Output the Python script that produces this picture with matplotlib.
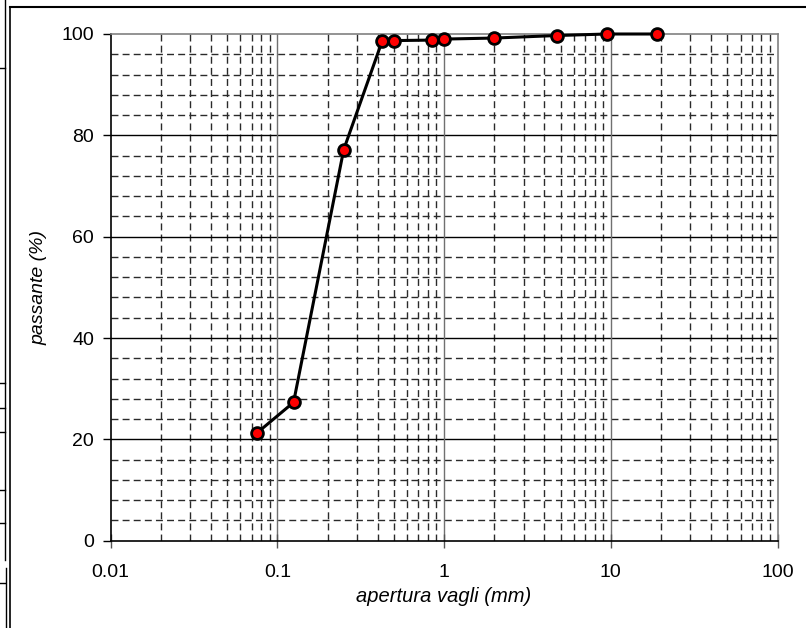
import matplotlib
matplotlib.use("Agg")
import matplotlib.pyplot as plt
from matplotlib.ticker import FixedLocator, FixedFormatter, NullFormatter
from matplotlib.lines import Line2D

plt.rcParams['font.family'] = ['Liberation Sans', 'DejaVu Sans']

# data
apertura = [0.075, 0.125, 0.25, 0.425, 0.5, 0.85, 1.0, 2.0, 4.75, 9.5, 19.0]
passante = [21.2, 27.3, 77.2, 98.6, 98.7, 98.8, 99.0, 99.2, 99.7, 100.0, 100.0]
x_ticks = [0.01, 0.1, 1, 10, 100]
x_tick_labels = ["0.01", "0.1", "1", "10", "100"]
y_ticks = [0, 20, 40, 60, 80, 100]
y_minor = [v for v in range(0, 101, 4) if v % 20 != 0]
x_minor = [m * 10.0 ** e for e in range(-2, 2) for m in range(2, 10)]

fig = plt.figure(figsize=(8.06, 6.28), dpi=100)
ax = fig.add_axes([110.7 / 806, 1 - 540.7 / 628, (777.5 - 110.7) / 806, (540.7 - 34) / 628])
ax.set_xscale('log')
ax.set_xlim(0.01, 100)
ax.set_ylim(0, 100)

dash = (0, (5, 3))
# minor grids
for v in y_minor:
    ax.axhline(v, color='#2a2a2a', lw=1.0, linestyle=dash, zorder=1)
for v in x_minor:
    ax.axvline(v, color='#2a2a2a', lw=1.0, linestyle=dash, zorder=1)
# major grids
for v in y_ticks[1:-1]:
    ax.axhline(v, color='black', lw=1.0, zorder=1.5)
for v in x_ticks[1:-1]:
    ax.axvline(v, color='#707070', lw=1.0, zorder=1.5)

ax.plot(apertura, passante, color='black', lw=2.2, marker='o', markersize=8.5,
        markerfacecolor='red', markeredgecolor='black', markeredgewidth=2.0, zorder=3,
        clip_on=False)

ax.xaxis.set_major_locator(FixedLocator(x_ticks))
ax.xaxis.set_major_formatter(FixedFormatter(x_tick_labels))
ax.xaxis.set_minor_locator(FixedLocator([]))
ax.xaxis.set_minor_formatter(NullFormatter())
ax.set_yticks(y_ticks)

ax.tick_params(axis='x', which='major', direction='inout', length=10, width=1,
               color='#555555', labelsize=14, pad=12)
ax.tick_params(axis='y', which='major', direction='out', length=6, width=1,
               color='black', labelsize=14, pad=6)

for s in ['left', 'bottom']:
    ax.spines[s].set_color('black')
    ax.spines[s].set_linewidth(1.2)
for s in ['top', 'right']:
    ax.spines[s].set_color('#808080')
    ax.spines[s].set_linewidth(1.2)

ax.set_xlabel('apertura vagli (mm)', fontsize=14.5, style='italic', labelpad=4)
ax.set_ylabel('passante (%)', fontsize=14, style='italic', labelpad=10)

# frame artefacts of the original spreadsheet crop
fig.add_artist(Line2D([10 / 806, 1], [1 - 6.5 / 628, 1 - 6.5 / 628], color='black', lw=1.5,
                      transform=fig.transFigure))
fig.add_artist(Line2D([9.5 / 806, 9.5 / 806], [0, 1 - 6.5 / 628], color='black', lw=1.2,
                      transform=fig.transFigure))
fig.add_artist(Line2D([5 / 806, 5 / 806], [1 - 560 / 628, 1], color='black', lw=1.0,
                      transform=fig.transFigure))
fig.add_artist(Line2D([5.5 / 806, 5.5 / 806], [0, 1 - 568 / 628], color='black', lw=1.0,
                      transform=fig.transFigure))
for yy in [68, 383, 408, 432, 490, 523, 583]:
    fig.add_artist(Line2D([0, 5 / 806], [1 - yy / 628, 1 - yy / 628], color='black', lw=1.0,
                          transform=fig.transFigure))

fig.savefig('out.png', dpi=100)
